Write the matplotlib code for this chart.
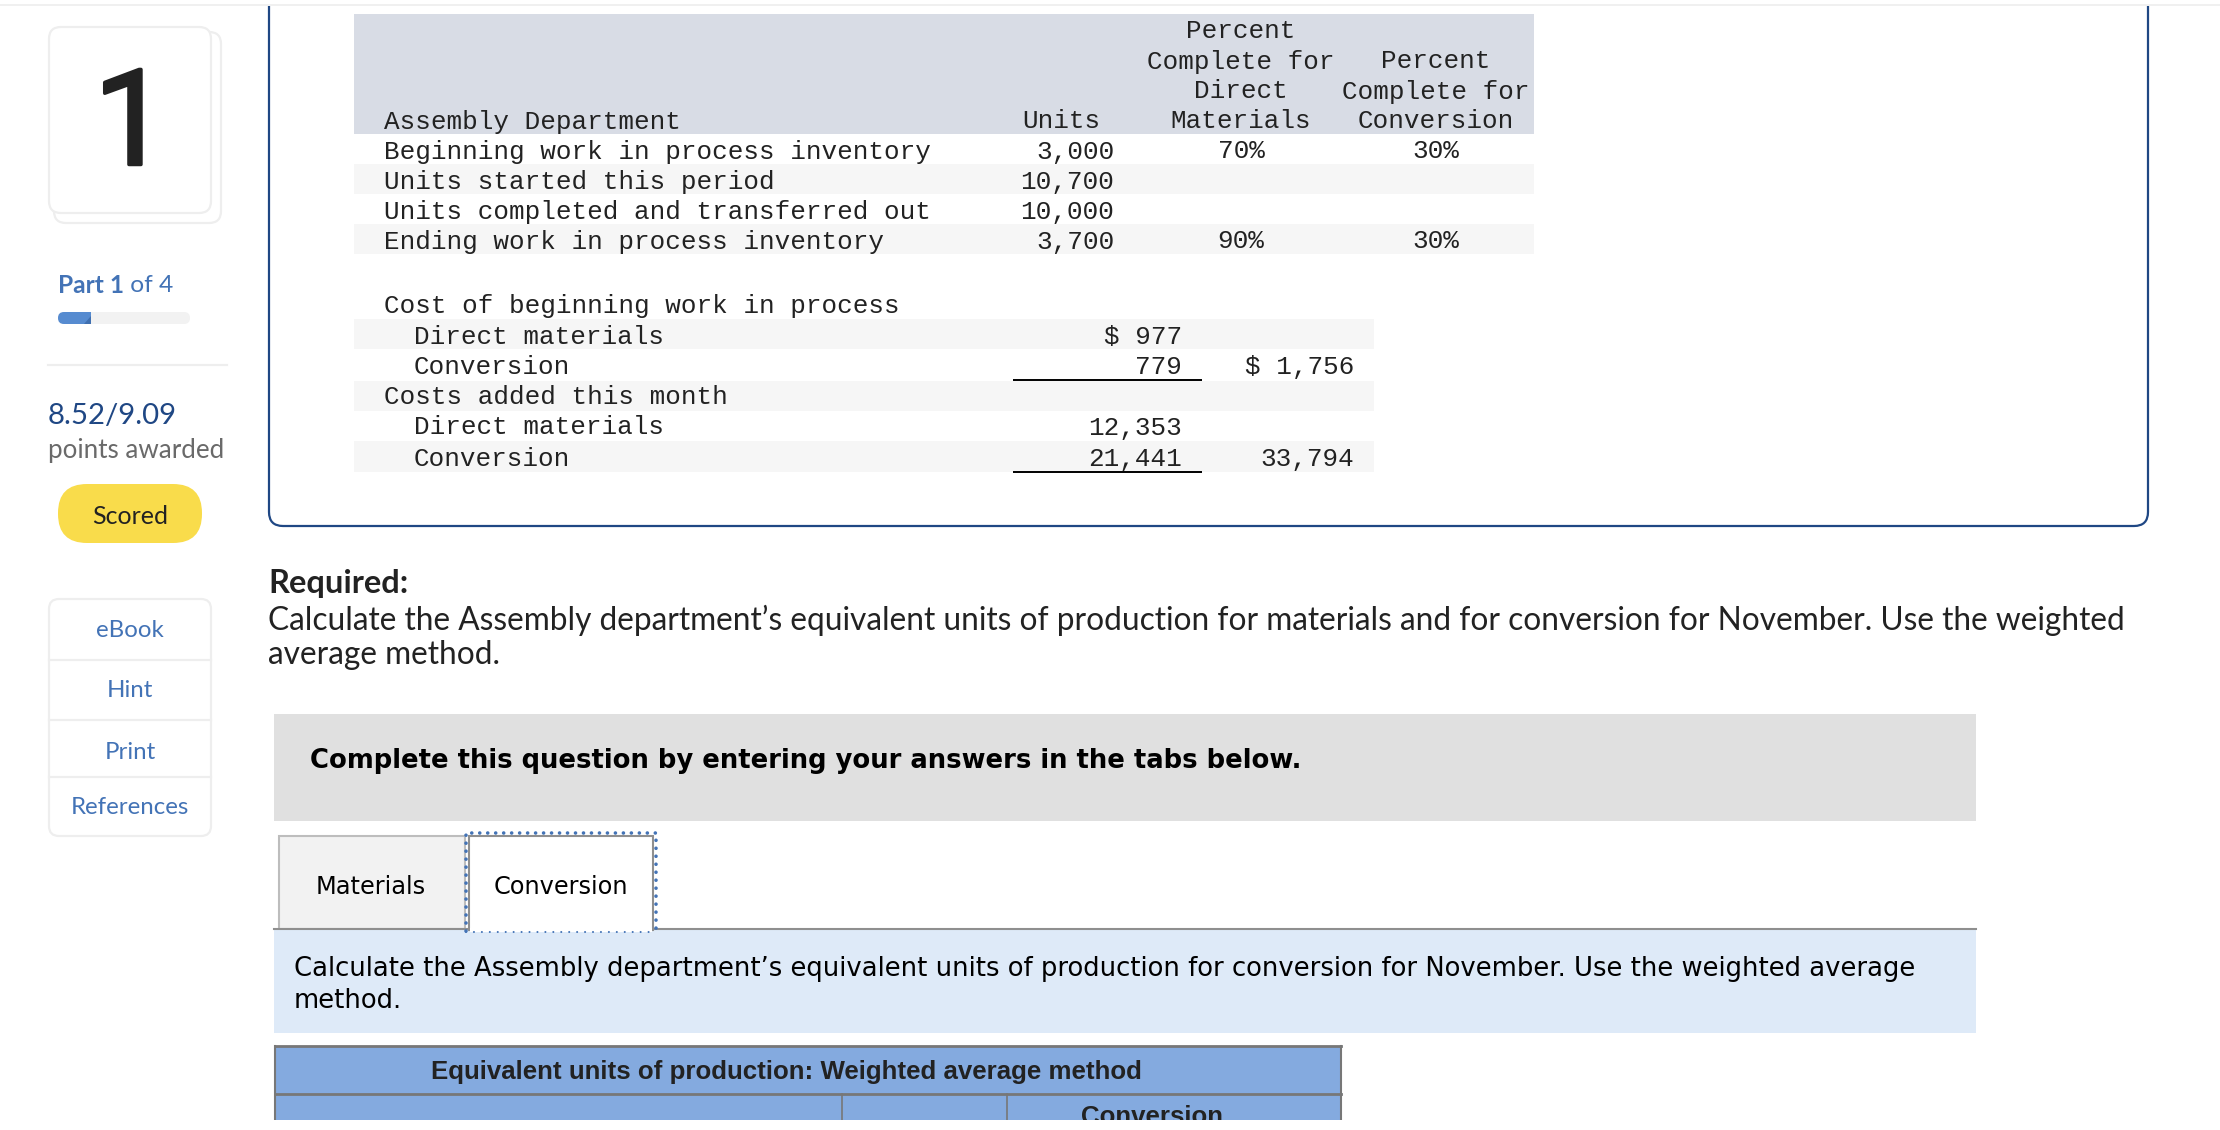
#!/usr/bin/env python3
import matplotlib
matplotlib.use('Agg')
import matplotlib.pyplot as plt
import matplotlib.patheffects as pe
from matplotlib.patches import Rectangle, FancyBboxPatch, Polygon

# sidebar
card_number = '1'
part_bold = 'Part 1'
part_rest = ' of 4'
points_text = '8.52/9.09'
points_label = 'points awarded'
status_text = 'Scored'
side_links = ['eBook', 'Hint', 'Print', 'References']

# units table
units_header = ['Assembly Department', 'Units']
mat_header = ['Percent', 'Complete for', 'Direct', 'Materials']
conv_header = ['Percent', 'Complete for', 'Conversion']
unit_rows = ['Beginning work in process inventory', 'Units started this period',
             'Units completed and transferred out', 'Ending work in process inventory']
unit_values = ['3,000', '10,700', '10,000', '3,700']
mat_percent = ['70%', '', '', '90%']
conv_percent = ['30%', '', '', '30%']

# cost table
cost_rows = ['Cost of beginning work in process', '  Direct materials', '  Conversion',
             'Costs added this month', '  Direct materials', '  Conversion']
cost_detail = ['', '$ 977', '779', '', '12,353', '21,441']
cost_total = ['', '', '$ 1,756', '', '', '33,794']

required_title = 'Required:'
required_lines = ['Calculate the Assembly department\u2019s equivalent units of production for materials and for conversion for November. Use the weighted',
                  'average method.']
banner_text = 'Complete this question by entering your answers in the tabs below.'
tab_names = ['Materials', 'Conversion']
tab_lines = ['Calculate the Assembly department\u2019s equivalent units of production for conversion for November. Use the weighted average',
             'method.']
table_title = 'Equivalent units of production: Weighted average method'
table_col = 'Conversion'

MONO = 'Liberation Mono'
UI = 'Lato'
VERD = 'DejaVu Sans'
INK = '#222222'
LINK = '#4373b6'
NAVY = '#1f4784'
PALE = '#f6f6f6'
EDGE = '#eeeeee'


def px(size):
    return size * 0.72


def box(ax, x0, y0, x1, y1, color, **kw):
    r = Rectangle((x0, y0), x1 - x0, y1 - y0, facecolor=color, edgecolor='none', **kw)
    ax.add_patch(r)
    return r


def rounded(ax, x0, y0, x1, y1, rad, face, edge, lw, z=1):
    r = FancyBboxPatch((x0 + rad, y0 + rad), x1 - x0 - 2 * rad, y1 - y0 - 2 * rad,
                       boxstyle=f'round,pad={rad},rounding_size={rad}',
                       facecolor=face, edgecolor=edge, linewidth=lw, zorder=z)
    ax.add_patch(r)
    return r


def sidebar(ax):
    # stacked card
    rounded(ax, 54, 32, 221, 223, 12, 'white', EDGE, 1.6, z=1)
    rounded(ax, 49, 27, 211, 213, 12, 'white', EDGE, 1.6, z=2)
    ax.text(131, 128, card_number, family='Roboto', weight='regular', fontsize=px(133),
            color=INK, ha='center', va='center', zorder=3,
            path_effects=[pe.withStroke(linewidth=2.5, foreground=INK)])

    t = ax.text(58, 285.5, part_bold, family=UI, weight='bold', fontsize=px(24.5),
                color=LINK, ha='left', va='center')
    ax.figure.canvas.draw()
    bb = t.get_window_extent()
    ax.text(bb.x1, 285.5, part_rest, family=UI, fontsize=px(24.5), color=LINK, ha='left', va='center')

    # progress bar
    rounded(ax, 58, 312, 190, 324, 6, '#f2f2f2', 'none', 0, z=1)
    rounded(ax, 58, 312, 70, 324, 6, '#568bd0', 'none', 0, z=2)
    box(ax, 64, 312, 91, 324, '#568bd0', zorder=2)
    ax.add_patch(Polygon([(84, 324), (91, 316), (91, 324)], facecolor='#3f6fb0', edgecolor='none', zorder=3))

    ax.plot([48, 227], [365, 365], color=EDGE, lw=1.6)
    ax.text(48, 415.5, points_text, family=UI, fontsize=px(29.4), color=NAVY, ha='left', va='center')
    ax.text(48, 450.5, points_label, family=UI, fontsize=px(26), color='#6a6a6a', ha='left', va='center')

    rounded(ax, 58, 484, 202, 543, 29, '#f9dc4b', 'none', 0)
    ax.text(130, 516, status_text, family=UI, fontsize=px(25), color=INK, ha='center', va='center')

    # link list
    rounded(ax, 49, 599, 211, 836, 10, 'white', EDGE, 1.6)
    for y in [660, 720, 777]:
        ax.plot([49, 211], [y, y], color=EDGE, lw=1.6)
    for name, y in zip(side_links, [630.5, 690.5, 752.5, 808]):
        ax.text(130, y, name, family=UI, fontsize=px(24), color=LINK, ha='center', va='center')


def panel(ax):
    # top strip of the page
    p = FancyBboxPatch((269 + 14, -40), 2148 - 269 - 28, 526 - 14 + 40,
                       boxstyle='round,pad=14,rounding_size=14', facecolor='white',
                       edgecolor=NAVY, linewidth=1.6, zorder=1)
    ax.add_patch(p)
    box(ax, 0, 0, 2220, 4, 'white', zorder=2)
    box(ax, 0, 4, 2220, 6, '#f0f0f0', zorder=2)


def mono(ax, x, y, s, ha='left'):
    ax.text(x, y + 1.5, s, family=MONO, fontsize=px(26), color=INK, ha=ha, va='center', zorder=4)


def unit_table(ax):
    box(ax, 354, 14, 1534, 134, '#d8dce5', zorder=2)
    for y0 in [164, 224]:
        box(ax, 354, y0, 1534, y0 + 30, PALE, zorder=2)

    mono(ax, 384, 120, units_header[0])
    mono(ax, 1022, 120, units_header[1])
    for i, s in enumerate(mat_header):
        mono(ax, 1241, 30 + 30 * i, s, ha='center')
    for i, s in enumerate(conv_header):
        mono(ax, 1436, 60 + 30 * i, s, ha='center')

    for i, name in enumerate(unit_rows):
        y = 150 + 30 * i
        mono(ax, 384, y, name)
        mono(ax, 1114, y, unit_values[i], ha='right')
        mono(ax, 1241, y, mat_percent[i], ha='center')
        mono(ax, 1436, y, conv_percent[i], ha='center')


def cost_table(ax):
    for y0, y1 in [(319, 349), (381, 411), (441, 472)]:
        box(ax, 354, y0, 1374, y1, PALE, zorder=2)
    ys = [305, 335, 365.5, 396, 426, 457.5]
    for i, name in enumerate(cost_rows):
        indent = 30 if name.startswith('  ') else 0
        mono(ax, 384 + indent, ys[i], name.strip())
        mono(ax, 1182, ys[i], cost_detail[i], ha='right')
        mono(ax, 1354, ys[i], cost_total[i], ha='right')
    for y in [380, 472]:
        ax.plot([1013, 1202], [y, y], color='black', lw=1.4, zorder=4, solid_capstyle='butt')


def question(ax):
    ax.text(268, 584, required_title, family=UI, weight='bold', fontsize=px(32.6),
            color=INK, ha='left', va='center')
    for s, y in zip(required_lines, [620.5, 655.5]):
        ax.text(268, y, s, family=UI, fontsize=px(31.6), color=INK, ha='left', va='center')

    box(ax, 274, 714, 1976, 821, '#e0e0e0')
    ax.text(310, 761.5, banner_text, family=VERD, weight='bold', fontsize=px(25.85),
            color='black', ha='left', va='center')

    # tabs
    r = Rectangle((279, 836), 186, 93, facecolor='#f2f2f2', edgecolor='#bdbdbd', linewidth=1.5)
    ax.add_patch(r)
    r = Rectangle((469, 836), 184, 94, facecolor='white', edgecolor='#8f8f8f', linewidth=1.5, zorder=3)
    ax.add_patch(r)
    box(ax, 470, 928, 652, 932, 'white', zorder=3)
    # focus outline, round dots
    ax.plot([466, 466, 656, 656], [931, 833, 833, 931], color=LINK, lw=2.6,
            linestyle=(0, (0.01, 2.2)), dash_capstyle='round', zorder=4)
    ax.plot([466, 656], [931.5, 931.5], color=LINK, lw=1.5,
            linestyle=(0, (0.01, 3.8)), dash_capstyle='round', zorder=4)
    ax.text(371, 886.5, tab_names[0], family=VERD, fontsize=px(24), color='black', ha='center', va='center')
    ax.text(561, 886.5, tab_names[1], family=VERD, fontsize=px(24), color='black', ha='center', va='center', zorder=5)

    box(ax, 274, 930, 1976, 1033, '#deeaf8')
    ax.plot([274, 469], [929, 929], color='#8f8f8f', lw=1.5, zorder=2)
    ax.plot([653, 1976], [929, 929], color='#8f8f8f', lw=1.5, zorder=2)
    for s, y in zip(tab_lines, [969.5, 1000.5]):
        ax.text(294, y, s, family=VERD, fontsize=px(25.9), color='black', ha='left', va='center')


def answer_table(ax):
    box(ax, 275, 1046, 1341, 1125, '#84aadf')
    edge = '#777777'
    ax.plot([275, 1341], [1046, 1046], color=edge, lw=2, zorder=2)
    ax.plot([275, 1341], [1094, 1094], color=edge, lw=2, zorder=2)
    ax.plot([275, 275], [1046, 1125], color=edge, lw=1.5, zorder=2)
    ax.plot([1341, 1341], [1046, 1125], color=edge, lw=1.5, zorder=2)
    ax.plot([842, 842], [1094, 1125], color=edge, lw=1.2, zorder=2)
    ax.plot([1007, 1007], [1094, 1125], color=edge, lw=1.2, zorder=2)
    ax.text(786, 1071.5, table_title, family='Liberation Sans', weight='bold', fontsize=px(25.9),
            color=INK, ha='center', va='center')
    ax.text(1152, 1117, table_col, family='Liberation Sans', weight='bold', fontsize=px(25.9),
            color=INK, ha='center', va='center', zorder=2)
    # page is cut off here
    box(ax, 0, 1120, 2220, 1130, 'white', zorder=6)


if __name__ == '__main__':
    fig = plt.figure(figsize=(22.2, 11.3), dpi=100)
    ax = fig.add_axes([0, 0, 1, 1])
    ax.set_xlim(0, 2220)
    ax.set_ylim(1130, 0)
    ax.axis('off')

    panel(ax)
    sidebar(ax)
    unit_table(ax)
    cost_table(ax)
    question(ax)
    answer_table(ax)

    fig.savefig('out.png', dpi=100, facecolor='white')
